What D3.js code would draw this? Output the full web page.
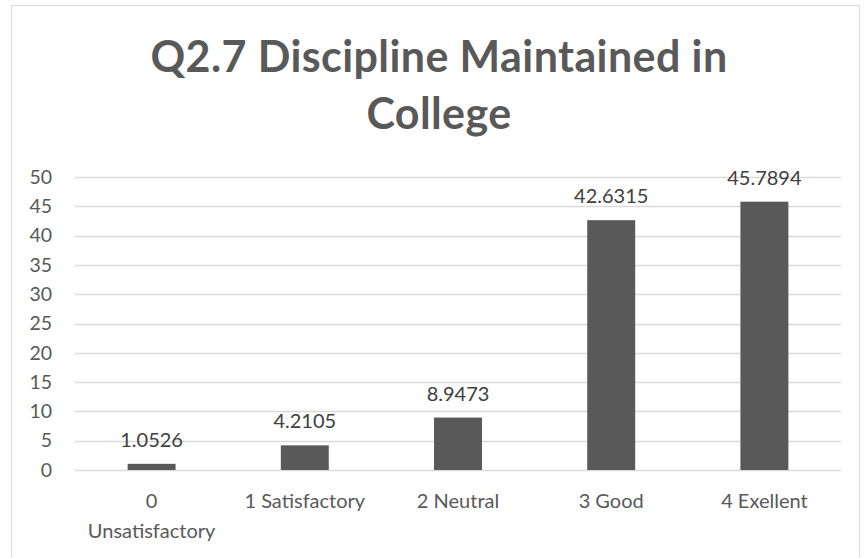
<!DOCTYPE html>
<html>
<head>
<meta charset="utf-8">
<script src="https://cdn.jsdelivr.net/npm/d3@7"></script>
<style>
  body { margin: 0; background: #fff; }
  svg { font-family: Lato, "Open Sans", sans-serif; }
</style>
</head>
<body>
<div id="chart"></div>
<script>
const categories = ["0 Unsatisfactory", "1 Satisfactory", "2 Neutral", "3 Good", "4 Exellent"];
const values = [1.0526, 4.2105, 8.9473, 42.6315, 45.7894];
const yTicks = [0, 5, 10, 15, 20, 25, 30, 35, 40, 45, 50];
const titleLines = ["Q2.7 Discipline Maintained in", "College"];

const W = 864, H = 558;
const margin = {top: 177, right: 23, bottom: 88, left: 75};
const width = W - margin.left - margin.right,
      height = H - margin.top - margin.bottom;

const svg = d3.select("#chart").append("svg")
    .attr("width", W)
    .attr("height", H);

// chart area border
svg.append("rect")
    .attr("x", 11.5).attr("y", 5.5)
    .attr("width", 848).attr("height", 600)
    .attr("fill", "none")
    .attr("stroke", "#d9d9d9");

// Title
svg.append("g").selectAll("text")
    .data(titleLines)
    .enter()
    .append("text")
    .attr("x", 439)
    .attr("y", (d, i) => 72 + i * 57)
    .attr("text-anchor", "middle")
    .attr("font-size", 43)
    .attr("font-weight", "bold")
    .attr("letter-spacing", 0.4)
    .attr("fill", "#595959")
    .text(d => d);

const g = svg.append("g")
    .attr("transform", `translate(${margin.left},${margin.top})`);

const x = d3.scaleBand()
    .domain(categories)
    .range([0, width])
    .paddingInner(0.687)
    .paddingOuter(0.3435);

const y = d3.scaleLinear()
    .domain([0, 50])
    .range([height, 0]);

// gridlines
g.selectAll(".grid")
    .data(yTicks)
    .enter()
    .append("line")
    .attr("x1", 0).attr("x2", width)
    .attr("y1", d => Math.round(y(d)) + 0.5)
    .attr("y2", d => Math.round(y(d)) + 0.5)
    .attr("stroke", "#d9d9d9")
    .attr("stroke-width", 1.3);

// y axis labels
const yAxis = g.append("g")
    .call(d3.axisLeft(y).tickValues(yTicks).tickSize(0).tickPadding(23));
yAxis.select(".domain").remove();
yAxis.selectAll("text")
    .attr("font-family", "Lato, sans-serif")
    .attr("font-size", 19.5)
    .attr("fill", "#595959");

// bars
g.selectAll(".bar")
    .data(values)
    .enter()
    .append("rect")
    .attr("class", "bar")
    .attr("x", (d, i) => x(categories[i]))
    .attr("width", x.bandwidth())
    .attr("y", d => y(d))
    .attr("height", d => height - y(d))
    .attr("fill", "#595959");

// value labels
g.selectAll(".val")
    .data(values)
    .enter()
    .append("text")
    .attr("class", "val")
    .attr("x", (d, i) => x(categories[i]) + x.bandwidth() / 2)
    .attr("y", d => y(d) - 17)
    .attr("text-anchor", "middle")
    .attr("font-size", 20)
    .attr("fill", "#404040")
    .text(d => d);

// x axis labels
const xl = g.selectAll(".xl")
    .data(categories)
    .enter()
    .append("text")
    .attr("class", "xl")
    .attr("text-anchor", "middle")
    .attr("font-size", 20)
    .attr("fill", "#595959")
    .attr("transform", d => `translate(${x(d) + x.bandwidth() / 2},${height + 38})`);

xl.each(function(d, i) {
    const lines = i === 0 ? ["0", "Unsatisfactory"] : [d];
    d3.select(this).selectAll("tspan")
        .data(lines)
        .enter()
        .append("tspan")
        .attr("x", 0)
        .attr("dy", (l, j) => j === 0 ? 0 : 30)
        .text(l => l);
});
</script>
</body>
</html>
